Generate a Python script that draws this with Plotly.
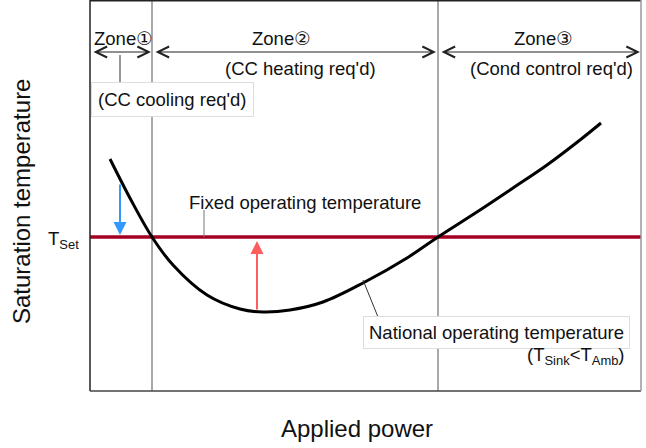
import plotly.graph_objects as go

# ---- data (arbitrary units: x = applied power, y = saturation temperature)
curve_x = [20, 41, 62, 83, 117, 150, 173, 200, 233, 273, 317, 348, 390, 423, 457, 490, 511]
curve_y = [232, 191, 154, 126, 96, 82, 79, 81, 89, 108, 133, 154, 181, 203, 226, 251, 268]
t_set = 154
zone_bounds = [62, 348]
x_range = [0, 551]
y_range = [0, 391]
zone_arrow_y = 339
zone_spans = [(2, 61), (64, 346), (350, 550)]
zone_labels = ["Zone①", "Zone②", "Zone③"]
zone_label_x = [33, 191, 453]
zone_sub_labels = ["(CC heating req'd)", "(Cond control req'd)"]
zone_sub_x = [210, 461]
cool_arrow = dict(x=30, y0=208, y1=156)
heat_arrow = dict(x=167, y0=80, y1=150)

FONT = "Liberation Sans, Arial, DejaVu Sans, sans-serif"
TXT = "#111111"
FS = 18.5

fig = go.Figure()

# fixed operating temperature line
fig.add_trace(go.Scatter(x=x_range, y=[t_set, t_set], mode="lines",
                         line=dict(color="#A50021", width=3.5), hoverinfo="skip"))
# natural operating temperature curve
fig.add_trace(go.Scatter(x=curve_x, y=curve_y, mode="lines",
                         line=dict(color="#000000", width=3, shape="spline", smoothing=1.0),
                         hoverinfo="skip"))

shapes = []
# zone boundary lines
for xb in zone_bounds:
    shapes.append(dict(type="line", xref="x", yref="paper", x0=xb, x1=xb, y0=0, y1=1,
                       line=dict(color="#8c8c8c", width=1.5), layer="below"))
# frame
shapes += [
    dict(type="line", xref="paper", yref="paper", x0=0, x1=0, y0=0, y1=1, line=dict(color="#222", width=1.5)),
    dict(type="line", xref="paper", yref="paper", x0=0, x1=1, y0=1, y1=1, line=dict(color="#222", width=3)),
    dict(type="line", xref="paper", yref="paper", x0=0, x1=1, y0=0, y1=0, line=dict(color="#444", width=1.5)),
    dict(type="line", xref="paper", yref="paper", x0=1, x1=1, y0=0, y1=1, line=dict(color="#999", width=1.5)),
]
# callout leader lines
shapes += [
    dict(type="line", xref="x", yref="y", x0=30, x1=30, y0=336, y1=307, line=dict(color="#333", width=1)),
    dict(type="line", xref="x", yref="y", x0=114, x1=114, y0=181, y1=t_set, line=dict(color="#777", width=1)),
    dict(type="line", xref="x", yref="y", x0=273, x1=288, y0=111, y1=74, line=dict(color="#333", width=1)),
]

ann = []
# zone double arrows
for (a, b) in zone_spans:
    ann.append(dict(x=b, y=zone_arrow_y, ax=a, ay=zone_arrow_y, xref="x", yref="y",
                    axref="x", ayref="y", text="", showarrow=True, arrowhead=5, startarrowhead=5,
                    arrowside="end+start", arrowsize=2.2, startarrowsize=2.2, arrowwidth=1,
                    arrowcolor="#222"))
for lbl, xx in zip(zone_labels, zone_label_x):
    ann.append(dict(x=xx, y=353, xref="x", yref="y", text=lbl, showarrow=False,
                    font=dict(family=FONT, size=FS, color=TXT)))
for lbl, xx in zip(zone_sub_labels, zone_sub_x):
    ann.append(dict(x=xx, y=323, xref="x", yref="y", text=lbl, showarrow=False,
                    font=dict(family=FONT, size=FS, color=TXT)))
# boxed labels
ann.append(dict(x=82, y=292, xref="x", yref="y", text="(CC cooling req'd)", showarrow=False,
                font=dict(family=FONT, size=FS, color=TXT), bgcolor="white",
                bordercolor="#dddddd", borderwidth=1, borderpad=6))
ann.append(dict(x=406, y=59, xref="x", yref="y", text="National operating temperature",
                showarrow=False, font=dict(family=FONT, size=FS, color=TXT), bgcolor="white",
                bordercolor="#dddddd", borderwidth=1, borderpad=5))
ann.append(dict(x=537, y=35, xref="x", yref="y", xanchor="right",
                text="(T<sub>Sink</sub>&lt;T<sub>Amb</sub>)", showarrow=False,
                font=dict(family=FONT, size=FS, color=TXT)))
ann.append(dict(x=215, y=189, xref="x", yref="y", text="Fixed operating temperature",
                showarrow=False, font=dict(family=FONT, size=FS, color=TXT)))
ann.append(dict(x=-9 / 551, y=(t_set - 3) / 391, xref="paper", yref="paper", xanchor="right",
                text="T<sub>Set</sub>", showarrow=False, font=dict(family=FONT, size=FS, color=TXT)))
# cooling / heating arrows
ann.append(dict(x=cool_arrow["x"], y=cool_arrow["y1"], ax=cool_arrow["x"], ay=cool_arrow["y0"],
                xref="x", yref="y", axref="x", ayref="y", text="", showarrow=True,
                arrowhead=2, arrowsize=1.3, arrowwidth=2, arrowcolor="#3399FF"))
ann.append(dict(x=heat_arrow["x"], y=heat_arrow["y1"], ax=heat_arrow["x"], ay=heat_arrow["y0"],
                xref="x", yref="y", axref="x", ayref="y", text="", showarrow=True,
                arrowhead=2, arrowsize=1.3, arrowwidth=2, arrowcolor="#FF5C5C"))
# axis titles
ann.append(dict(x=(357 - 90) / 551, y=-37 / 391, xref="paper", yref="paper", text="Applied power",
                showarrow=False, yanchor="middle", font=dict(family=FONT, size=24, color=TXT)))
ann.append(dict(x=-69 / 551, y=(391 - 202) / 391, xref="paper", yref="paper",
                text="Saturation temperature", textangle=-90, showarrow=False,
                xanchor="center", yanchor="middle", font=dict(family=FONT, size=24, color=TXT)))

fig.update_layout(
    width=646, height=448,
    margin=dict(l=90, r=5, t=0, b=57),
    paper_bgcolor="white", plot_bgcolor="white",
    showlegend=False,
    xaxis=dict(range=x_range, showgrid=False, zeroline=False, showticklabels=False, ticks=""),
    yaxis=dict(range=y_range, showgrid=False, zeroline=False, showticklabels=False, ticks=""),
    shapes=shapes, annotations=ann,
)

fig.write_html("out.html", config={"displayModeBar": False},
               post_script="document.body.style.margin='0';document.body.style.overflow='hidden';")
